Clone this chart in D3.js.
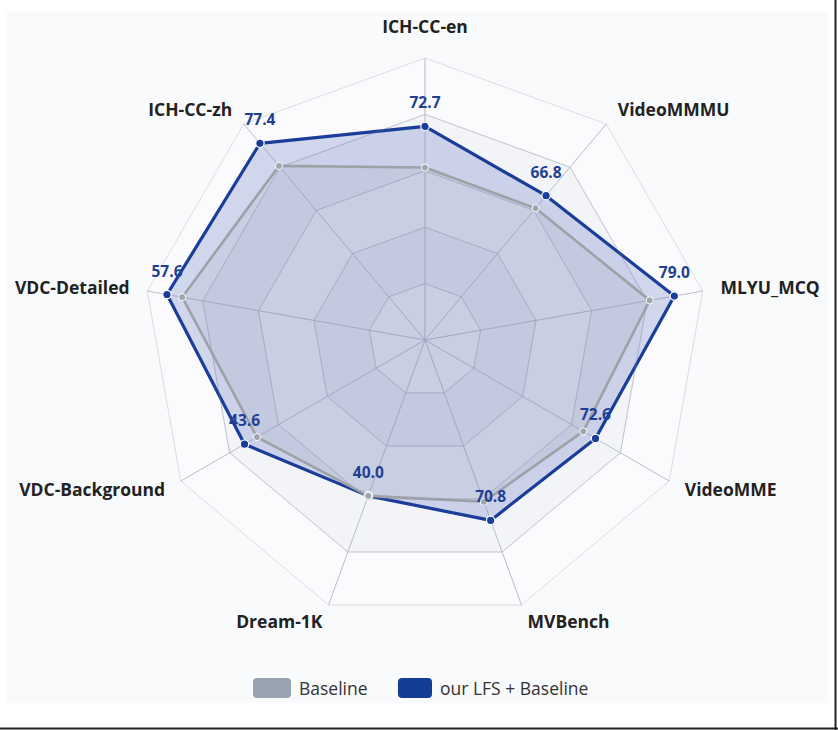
<!DOCTYPE html>
<html>
<head>
<meta charset="utf-8">
<title>Radar</title>
<script src="https://cdn.jsdelivr.net/npm/d3@7"></script>
<style>
  body { margin: 0; background: #fff; }
  svg { display: block; font-family: "Open Sans", "Noto Sans", sans-serif; }
</style>
</head>
<body>
<script>
// axes, clockwise from the top
var axes = ["ICH-CC-en", "VideoMMMU", "MLYU_MCQ", "VideoMME", "MVBench",
            "Dream-1K", "VDC-Background", "VDC-Detailed", "ICH-CC-zh"];
var axisMax = [96, 100, 88, 104, 104, 68, 59, 62, 85];
var baseline = [58.7, 61.0, 71.2, 67.4, 63.5, 40.0, 40.6, 54.2, 68.5];
var lfs = [72.7, 66.8, 79.0, 72.6, 70.8, 40.0, 43.6, 57.6, 77.4];
var legendNames = ["Baseline", "our LFS + Baseline"];

var W = 838, H = 730, cx = 425, cy = 340, R = 282, levels = 5;

var svg = d3.select("body").append("svg")
    .attr("width", W)
    .attr("height", H);

// page frame
svg.append("rect").attr("x", 6).attr("y", 12).attr("width", 822).attr("height", 691)
    .attr("fill", "#f9fafc");
svg.append("line").attr("x1", 0).attr("x2", W).attr("y1", 728.5).attr("y2", 728.5)
    .attr("stroke", "#222").attr("stroke-width", 2);
svg.append("line").attr("x1", 835.5).attr("x2", 835.5).attr("y1", 0).attr("y2", H)
    .attr("stroke", "#222").attr("stroke-width", 2);

var g = svg.append("g").attr("transform", "translate(" + cx + "," + cy + ")");

var angle = d3.scaleLinear().domain([0, axes.length]).range([0, 2 * Math.PI]);
var scales = axisMax.map(function(m) { return d3.scaleLinear().domain([0, m]).range([0, R]); });
var ring = d3.scaleLinear().domain([0, levels]).range([0, R]);

function pt(i, r) {
    var a = angle(i);
    return [r * Math.sin(a), -r * Math.cos(a)];
}

// split areas, outside in so inner bands sit on top
for (var l = levels; l >= 1; l--) {
    g.append("polygon")
        .attr("points", axes.map(function(d, i) { return pt(i, ring(l)).join(","); }).join(" "))
        .attr("fill", l % 2 ? "#fbfbfd" : "#f3f4f8")
        .attr("stroke", "#dcdde0")
        .attr("stroke-width", 1);
}

g.selectAll(".spoke").data(axes).enter().append("line")
    .attr("x1", 0).attr("y1", 0)
    .attr("x2", function(d, i) { return pt(i, R)[0]; })
    .attr("y2", function(d, i) { return pt(i, R)[1]; })
    .attr("stroke", "#dcdde0").attr("stroke-width", 1);

var line = d3.line().curve(d3.curveLinearClosed);

function series(vals, fill, stroke, sw) {
    var pts = vals.map(function(v, i) { return pt(i, scales[i](v)); });
    g.append("path").attr("d", line(pts))
        .attr("fill", fill)
        .attr("stroke", stroke).attr("stroke-width", sw)
        .attr("stroke-linejoin", "round");
    return pts;
}

var lp = series(lfs, "rgba(40,70,170,0.2)", "#1a3d9a", 3.2);
var bp = series(baseline, "rgba(150,155,165,0.12)", "#9ea2a7", 2.6);

// grid lines show through the filled areas
g.selectAll(".spoke2").data(axes).enter().append("line")
    .attr("x1", 0).attr("y1", 0)
    .attr("x2", function(d, i) { return pt(i, R)[0]; })
    .attr("y2", function(d, i) { return pt(i, R)[1]; })
    .attr("stroke", "rgba(140,150,175,0.4)").attr("stroke-width", 1);
for (var k = 1; k <= 4; k++) {
    g.append("polygon")
        .attr("points", axes.map(function(d, i) { return pt(i, ring(k)).join(","); }).join(" "))
        .attr("fill", "none")
        .attr("stroke", "rgba(140,150,175,0.32)")
        .attr("stroke-width", 1);
}

g.selectAll(".lfsdot").data(lp).enter().append("circle")
    .attr("cx", function(d) { return d[0]; })
    .attr("cy", function(d) { return d[1]; })
    .attr("r", 4.2).attr("fill", "#1a3d9a")
    .attr("stroke", "#fff").attr("stroke-width", 1.2);

g.selectAll(".basedot").data(bp).enter().append("circle")
    .attr("cx", function(d) { return d[0]; })
    .attr("cy", function(d) { return d[1]; })
    .attr("r", 3.6).attr("fill", "#a2a6ab")
    .attr("stroke", "#fff").attr("stroke-width", 1);

// value labels
g.selectAll(".val").data(lfs).enter().append("text")
    .attr("x", function(d, i) { return lp[i][0]; })
    .attr("y", function(d, i) { return lp[i][1] - 18; })
    .attr("text-anchor", "middle")
    .attr("font-size", 15.5).attr("font-weight", 700)
    .attr("fill", "#1f3f94")
    .text(function(d) { return d.toFixed(1); });

// axis names
g.selectAll(".name").data(axes).enter().append("text")
    .attr("x", function(d, i) { return pt(i, 300)[0]; })
    .attr("y", function(d, i) { return i === 0 ? -307 : pt(i, 300)[1] + 6; })
    .attr("text-anchor", function(d, i) {
        if (i === 0) return "middle";
        return i < axes.length / 2 ? "start" : "end";
    })
    .attr("font-size", 17.5).attr("font-weight", 700)
    .attr("fill", "#222")
    .text(function(d) { return d; });

// legend
var legend = svg.append("g");
var lx = [253, 398], sw = [38, 34], colors = ["#9aa3b1", "#163d94"];
legendNames.forEach(function(n, i) {
    legend.append("rect").attr("x", lx[i]).attr("y", 678).attr("width", sw[i]).attr("height", 20)
        .attr("rx", 4).attr("fill", colors[i]);
    legend.append("text").attr("x", lx[i] + sw[i] + 8).attr("y", 694.5)
        .attr("font-size", 17.5).attr("fill", "#333")
        .text(n);
});
</script>
</body>
</html>
